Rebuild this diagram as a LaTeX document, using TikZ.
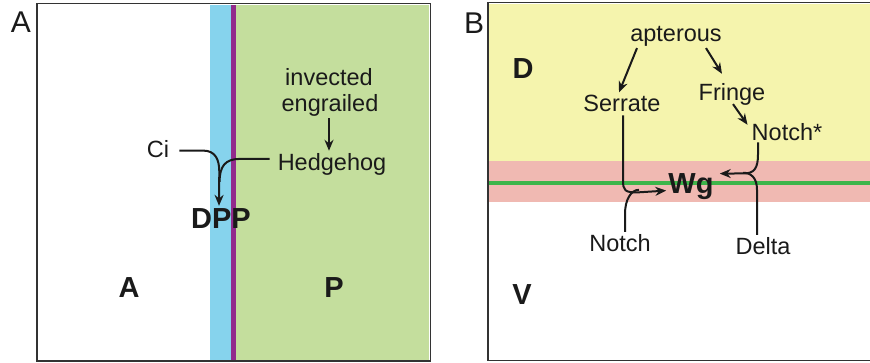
\documentclass[tikz,border=0pt]{standalone}
\usepackage{fontspec}
\setmainfont{Liberation Sans}
\usetikzlibrary{arrows.meta}
\definecolor{cblue}{HTML}{86D3ED}
\definecolor{cpurple}{HTML}{922B8C}
\definecolor{cgreen}{HTML}{C4DE9D}
\definecolor{cyellow}{HTML}{F5F4AD}
\definecolor{cpink}{HTML}{F0B9B2}
\definecolor{cline}{HTML}{3DB54A}
\definecolor{cframe}{HTML}{333333}
\definecolor{ctext}{HTML}{1A1A1A}
\tikzset{
  lbl/.style={anchor=base,inner sep=2pt,text=ctext,font=\fontsize{23.5}{26}\selectfont},
  blbl/.style={anchor=base,inner sep=2pt,text=ctext,font=\fontsize{29}{32}\selectfont\bfseries},
  panel/.style={anchor=base,inner sep=0pt,text=ctext,font=\fontsize{30}{32}\selectfont},
  arr/.style={draw=ctext,line width=2pt,-{Stealth[length=11pt,width=9pt]}},
  plain/.style={draw=ctext,line width=2pt},
  frame/.style={draw=cframe,line width=1.4pt}
}
\begin{document}
\begin{tikzpicture}[x=1pt,y=-1pt]
\useasboundingbox (0,0) rectangle (870,362);
% ---- Panel A background
\fill[cblue] (210,4.5) rectangle (231,360);
\fill[cpurple] (231,4.5) rectangle (236,360);
\fill[cgreen] (236,4.5) rectangle (429,360);
\draw[frame] (37,3.5) rectangle (430.5,361);
% ---- Panel B background
\fill[cyellow] (489,3.5) rectangle (870,161);
\fill[cpink] (489,161) rectangle (870,202);
\fill[cline] (489,180.8) rectangle (870,185.3);
\draw[frame] (870,2.5) -- (488,2.5) -- (488,360.5) -- (870,360.5);
% ---- panel letters
\node[panel] (pA) at (21,32) {A};
\node[panel] (pB) at (474,33) {B};
% ---- Panel A texts
\node[lbl] (inv) at (329,85) {invected};
\node[lbl] (eng) at (330,111) {engrailed};
\node[lbl] (hh) at (332,170) {Hedgehog};
\node[lbl] (ci) at (158,157) {Ci};
\node[blbl] (dpp) at (221,228) {DPP};
\node[blbl] (rA) at (129,297) {A};
\node[blbl] (rP) at (334,297) {P};
% ---- Panel A connectors
\draw[arr] ([xshift=-1pt]eng.south) -- ([xshift=-3pt]hh.north);
\draw[plain] ([xshift=-6pt,yshift=5pt]hh.west) -- ++(-30,0)
   .. controls +(-14,0) and +(0,-16) .. ++(-20,23);
\draw[arr] ([xshift=8pt,yshift=-2pt]ci.east) -- ++(24,0)
   .. controls +(12,0) and +(0,-12) .. ++(16,21) -- ([xshift=-2pt]dpp.north);
% ---- Panel B texts
\node[lbl] (apt) at (676,41) {apterous};
\node[lbl] (ser) at (622,111) {Serrate};
\node[lbl] (fr) at (732,100) {Fringe};
\node[lbl] (nst) at (787,140) {Notch*};
\node[blbl] (wg) at (691,193) {Wg};
\node[lbl] (nl) at (620,251) {Notch};
\node[lbl] (dl) at (763,254) {Delta};
\node[blbl] (rD) at (523,78) {D};
\node[blbl] (rV) at (522,304) {V};
% ---- Panel B connectors
\draw[arr] ([xshift=-39pt]apt.south) -- ([xshift=-3pt]ser.north);
\draw[arr] ([xshift=30pt]apt.south) -- ([xshift=-10pt,yshift=7pt]fr.north);
\draw[arr] ([xshift=1pt,yshift=3pt]fr.south) -- ([xshift=-2pt,yshift=-4pt]nst.north west);
\draw[arr] ([xshift=1pt,yshift=-2pt]ser.south) -- ++(0,65)
   .. controls +(0,10) and +(-12,0) .. ++(14,12) -- ([yshift=-4.5pt]wg.west);
\draw[plain] ([xshift=5pt]nl.north) -- ++(0,-18)
   .. controls +(0,-14) and +(-8,0) .. ++(14,-24);
\draw[arr] ([xshift=-29pt]nst.south) -- ++(0,12)
   .. controls +(0,14) and +(10,0) .. ++(-14,19) -- ([xshift=4pt,yshift=12.5pt]wg.east);
\draw[plain] ([xshift=-6pt]dl.north) -- ++(0,-45)
   .. controls +(0,-12) and +(8,0) .. ++(-14,-17);
\end{tikzpicture}
\end{document}
